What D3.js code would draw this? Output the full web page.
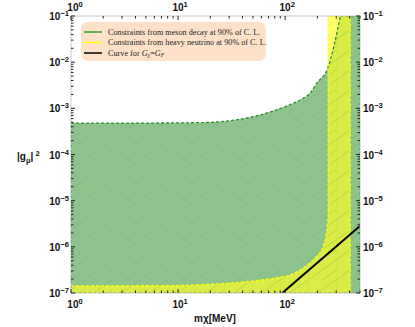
<!DOCTYPE html>
<html>
<head>
<meta charset="utf-8">
<script src="https://cdn.jsdelivr.net/npm/d3@7"></script>
<style>
  body { margin: 0; background: #fff; }
</style>
</head>
<body>
<div id="chart"></div>
<script>
// meson decay constraint: upper edge of the excluded region (m in MeV, |g|^2)
var mesonEdge = [[1, 4.8e-4], [5, 4.8e-4], [16, 4.9e-4], [38, 5.8e-4], [72, 8.3e-4], [100, 1.09e-3],
  [138, 1.52e-3], [171, 2.15e-3], [199, 3.6e-3], [248, 7.1e-3], [328, 0.1]];
// heavy neutrino constraint: lower/left edge
var neutrinoEdge = [[1, 1.42e-7], [10, 1.45e-7], [20, 1.55e-7], [38, 1.7e-7], [58, 1.9e-7], [85, 2.15e-7],
  [111, 2.45e-7], [140, 3.2e-7], [171, 4.5e-7], [200, 6.5e-7], [226, 1.0e-6], [242, 1.8e-6],
  [249, 3.0e-6], [252, 5e-6]];
var neutrinoLeft = 252, neutrinoRight = 405;
// G_chi = G_F curve
var gfCurve = [[94, 1e-7], [500, 2.83e-6]];

var xDecades = [1, 10, 100];
var yDecades = [1e-7, 1e-6, 1e-5, 1e-4, 1e-3, 1e-2, 1e-1];
var legendItems = ["Constraints from meson decay at 90% of C. L.", "Constraints from heavy neutrino at 90% of C. L.", "Curve for "];

var W = 415, H = 327;
var SANS = "'Liberation Sans', Arial, sans-serif";
var SERIF = "'Liberation Serif', 'Times New Roman', serif";
var svg = d3.select("#chart").append("svg").attr("width", W).attr("height", H)
  .style("font-family", SANS);

var x = d3.scaleLog().domain([1, 500]).range([71, 360]);
var y = d3.scaleLog().domain([1e-7, 0.1]).range([293, 16]);
var xmin = 1, xmax = 500, ymin = 1e-7, ymax = 0.1;

var defs = svg.append("defs");
defs.append("clipPath").attr("id", "plotclip").append("rect")
  .attr("x", x(xmin)).attr("y", y(ymax)).attr("width", x(xmax) - x(xmin)).attr("height", y(ymin) - y(ymax));

var pat = defs.append("pattern").attr("id", "mesh").attr("patternUnits", "userSpaceOnUse")
  .attr("width", 28).attr("height", 20);
pat.append("path").attr("d", "M0,20 L28,0 M-14,10 L0,0 M14,20 L28,10")
  .attr("stroke", "rgba(40,90,40,0.13)").attr("stroke-width", 0.6);
pat.append("path").attr("d", "M0,0 L0,20")
  .attr("stroke", "rgba(40,90,40,0.07)").attr("stroke-width", 0.6);

var px = function(d) { return x(d[0]); }, py = function(d) { return y(d[1]); };
var line = d3.line().x(px).y(py);
var smooth = d3.line().x(px).y(py).curve(d3.curveMonotoneX);
var tail = function(pts) { return pts.map(function(p) { return "L" + x(p[0]) + "," + y(p[1]); }).join(""); };

var mesonPath = "M" + x(xmin) + "," + y(ymin) + smooth(mesonEdge).replace(/^M/, "L") +
  tail([[xmax, ymax], [xmax, ymin]]) + "Z";
var neutrinoPath = smooth(neutrinoEdge) +
  tail([[neutrinoLeft, ymax], [neutrinoRight, ymax], [neutrinoRight, ymin], [xmin, ymin]]) + "Z";

var plot = svg.append("g").attr("clip-path", "url(#plotclip)");

plot.append("path").attr("d", mesonPath).attr("fill", "rgb(140,196,140)");
plot.append("path").attr("d", neutrinoPath).attr("fill", "rgb(255,255,40)").attr("fill-opacity", 0.68);
plot.append("path").attr("d", mesonPath).attr("fill", "url(#mesh)");
plot.append("path").attr("d", neutrinoPath).attr("fill", "url(#mesh)");

// boundaries
plot.append("path").attr("d", mesonPath)
  .attr("fill", "none").attr("stroke", "#2e8f2e").attr("stroke-width", 1.3).attr("stroke-dasharray", "3,2");
plot.append("path").attr("d", neutrinoPath)
  .attr("fill", "none").attr("stroke", "#ffff00").attr("stroke-width", 1.3).attr("stroke-dasharray", "3,2");

plot.append("path").datum(gfCurve).attr("d", line)
  .attr("fill", "none").attr("stroke", "#000").attr("stroke-width", 2);

// frame
svg.append("rect").attr("x", x(xmin)).attr("y", y(ymax))
  .attr("width", x(xmax) - x(xmin)).attr("height", y(ymin) - y(ymax))
  .attr("fill", "none").attr("stroke", "#bbb").attr("stroke-width", 0.8);

// ticks
var xTicks = [], yTicks = [];
xDecades.forEach(function(d) { for (var k = 1; k < 10; k++) if (d * k <= xmax) xTicks.push({v: d * k, major: k == 1}); });
yDecades.forEach(function(d) { for (var k = 1; k < 10; k++) if (d * k <= ymax) yTicks.push({v: d * k, major: k == 1}); });

var tk = svg.append("g").attr("stroke", "#222").attr("stroke-width", 1);
xTicks.forEach(function(t) {
  var len = t.major ? 4 : 2.5;
  tk.append("line").attr("x1", x(t.v)).attr("x2", x(t.v)).attr("y1", y(ymin)).attr("y2", y(ymin) - len);
  tk.append("line").attr("x1", x(t.v)).attr("x2", x(t.v)).attr("y1", y(ymax)).attr("y2", y(ymax) + len);
});
yTicks.forEach(function(t) {
  var len = t.major ? 4 : 2.5;
  tk.append("line").attr("x1", x(xmin)).attr("x2", x(xmin) + len).attr("y1", y(t.v)).attr("y2", y(t.v));
  tk.append("line").attr("x1", x(xmax)).attr("x2", x(xmax) - len).attr("y1", y(t.v)).attr("y2", y(t.v));
});

function powLabel(g, lx, ly, exp, anchor) {
  var t = g.append("text").attr("x", lx).attr("y", ly).attr("text-anchor", anchor)
    .attr("font-size", 10).attr("font-weight", "bold").attr("fill", "#111");
  t.append("tspan").text("10");
  t.append("tspan").attr("dy", -4).attr("font-size", 7.5).text(exp);
}
var lab = svg.append("g");
xDecades.forEach(function(d) {
  var e = Math.round(Math.log10(d));
  var s = e < 0 ? "\u2212" + (-e) : String(e);
  powLabel(lab, x(d) + (d == 1 ? 4 : 2), y(ymin) + 15, s, "middle");
  powLabel(lab, x(d) + (d == 1 ? 4 : 2), y(ymax) - 5, s, "middle");
});
yDecades.forEach(function(d) {
  var e = Math.round(Math.log10(d));
  var s = "\u2212" + (-e);
  powLabel(lab, x(xmin) - 2, y(d) + 4, s, "end");
  powLabel(lab, x(xmax) + 3, y(d) + 4, s, "start");
});

// axis titles
var yl = svg.append("text").attr("x", 17).attr("y", 160).attr("font-size", 10).attr("font-weight", "bold").attr("fill", "#111");
yl.append("tspan").text("|g");
yl.append("tspan").attr("dy", 3).attr("font-size", 7.5).text("\u03bc");
yl.append("tspan").attr("dy", -3).text("|");
yl.append("tspan").attr("dy", -4).attr("font-size", 7.5).text(" 2");

var xl = svg.append("text").attr("x", 215).attr("y", 322).attr("text-anchor", "middle")
  .attr("font-size", 10).attr("font-weight", "bold").attr("fill", "#111");
xl.append("tspan").text("m\u03c7[MeV]");

// legend
var lg = svg.append("g").attr("transform", "translate(81,22)");
lg.append("rect").attr("width", 185).attr("height", 39).attr("rx", 7)
  .attr("fill", "#fde2c9");
var legColors = ["#2ea02e", "#ffff00", "#000"];
legendItems.forEach(function(txt, i) {
  var ly = 10 + i * 10.5;
  lg.append("line").attr("x1", 3).attr("x2", 21).attr("y1", ly).attr("y2", ly)
    .attr("stroke", legColors[i]).attr("stroke-width", 1.5);
  var t = lg.append("text").attr("x", 27).attr("y", ly + 2.7)
    .style("font-family", SERIF).attr("font-size", 8.2).attr("fill", "#222")
    .text(txt);
  if (i == 2) {
    t.append("tspan").attr("font-style", "italic").text("G");
    t.append("tspan").attr("dy", 1.5).attr("font-size", 5.8).attr("font-style", "italic").text("\u03c7");
    t.append("tspan").attr("dy", -1.5).text("=");
    t.append("tspan").attr("font-style", "italic").text("G");
    t.append("tspan").attr("dy", 1.5).attr("font-size", 5.8).attr("font-style", "italic").text("F");
  }
});
</script>
</body>
</html>
